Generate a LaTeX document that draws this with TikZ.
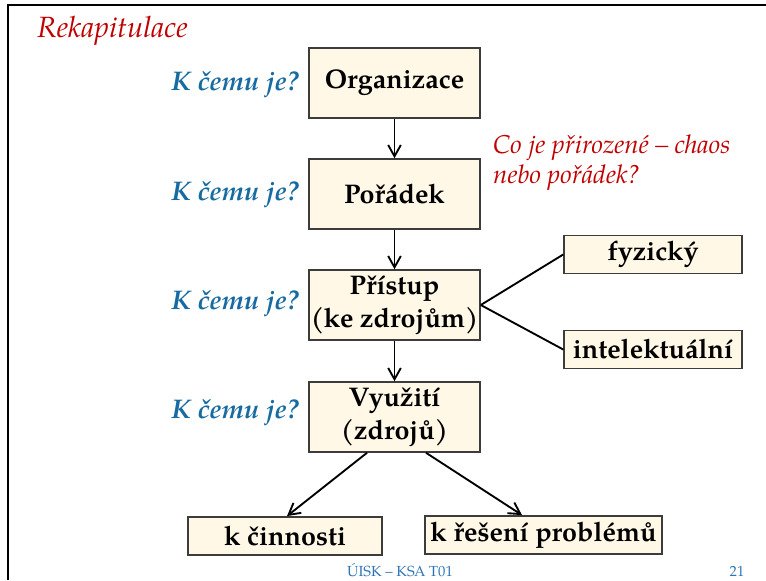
\documentclass[tikz,border=0pt]{standalone}
\usepackage{fontspec}
\setmainfont{texgyrepagella}[Extension=.otf,UprightFont=*-regular,BoldFont=*-bold,ItalicFont=*-italic,BoldItalicFont=*-bolditalic]
\usepackage{tikz}
\usetikzlibrary{arrows.meta}
\tikzset{>={Straight Barb[length=3.4mm,width=3.8mm]}}
\definecolor{titlered}{RGB}{192,0,0}
\definecolor{askblue}{RGB}{23,107,160}
\definecolor{footblue}{RGB}{46,116,181}
\definecolor{boxfill}{RGB}{255,248,231}
\definecolor{boxline}{RGB}{60,60,60}
\tikzset{
  stage/.style={draw=boxline,fill=boxfill,line width=1.3pt,minimum width=5.13cm,minimum height=2.1cm,
    inner sep=0pt,align=center,font=\fontsize{23}{28}\selectfont\bfseries},
  kind/.style={stage,minimum height=1.15cm},
  ask/.style={text=askblue,inner sep=0pt,anchor=east,font=\fontsize{23}{28}\selectfont\bfseries\itshape},
  link/.style={line width=1.6pt}
}

\begin{document}
\begin{tikzpicture}[x=0.03cm,y=-0.03cm]
\useasboundingbox (0,0) rectangle (766,580);
\draw[line width=1.8pt] (8,580) -- (8,5) -- (766,5);
\node[anchor=base west,inner sep=0pt,text=titlered,font=\fontsize{25}{30}\selectfont\itshape] (title) at (37,37) {Rekapitulace};

\node[stage] (org) at (394.5,83) {Organizace};
\node[stage] (por) at (394.5,194) {Pořádek};
\node[stage] (pri) at (394.5,305) {Přístup\\(ke zdrojům)};
\node[stage] (vyu) at (394.5,417) {Využití\\(zdrojů)};
\node[kind,minimum width=5.34cm] (fyz) at (653,254.5) {fyzický};
\node[kind,minimum width=5.34cm] (int) at (653,349.5) {intelektuální};
\node[kind,minimum width=5.82cm] (cin) at (285,536) {k činnosti};
\node[kind,minimum width=7.11cm] (res) at (543.5,535) {k řešení problémů};

\node[ask] (q1) at (299,85) {K čemu je?};
\node[ask] (q2) at (299,195) {K čemu je?};
\node[ask] (q3) at (299,304) {K čemu je?};
\node[ask] (q4) at (299,413) {K čemu je?};
\node[anchor=base west,inner sep=0pt,align=left,text=titlered,font=\fontsize{22}{25.6}\selectfont\itshape] (chaos) at (493,183) {Co je přirozené – chaos\\nebo pořádek?};

\draw[link,->] (org) -- (por);
\draw[link,->] (por) -- (pri);
\draw[link,->] (pri) -- (vyu);
\draw[link] (pri.east) -- (fyz.west);
\draw[link] (pri.east) -- (int.west);
\draw[link,->] ([xshift=-0.825cm]vyu.south) -- ([xshift=0.06cm]cin.north);
\draw[link,->] ([xshift=0.945cm]vyu.south) -- ([xshift=-0.645cm]res.north);

\node[anchor=base,inner sep=0pt,text=footblue,font=\fontsize{12.5}{15}\selectfont] (foot) at (400,576) {ÚISK – KSA T01};
\node[anchor=base,inner sep=0pt,text=footblue,font=\fontsize{12.5}{15}\selectfont] (page) at (737,576) {21};
\end{tikzpicture}
\end{document}
